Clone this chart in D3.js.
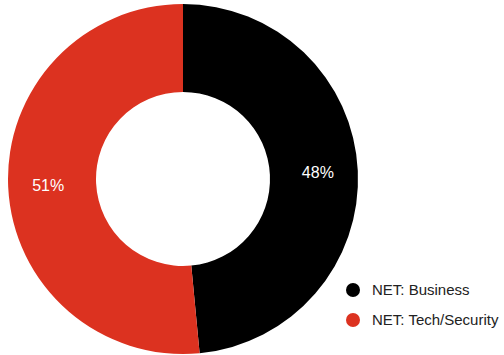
<!DOCTYPE html>
<html>
<head>
<meta charset="utf-8">
<script src="https://cdn.jsdelivr.net/npm/d3@7"></script>
<style>
  body { margin: 0; background: #fff; }
  text { font-family: "Liberation Sans", Arial, sans-serif; }
</style>
</head>
<body>
<svg id="chart" width="504" height="355"></svg>
<script>
// data
var categories = ["NET: Business", "NET: Tech/Security"];
var values = [48, 51];
var colors = ["#000000", "#dc3220"];

var svg = d3.select("#chart");
var cx = 183, cy = 179, outerR = 175, innerR = 87;

var pie = d3.pie().sort(null).value(function(d){ return d.value; });
var arcs = pie(categories.map(function(c, i){ return {name: c, value: values[i], color: colors[i]}; }));

var arc = d3.arc().innerRadius(innerR).outerRadius(outerR);
var labelArc = d3.arc().innerRadius(135).outerRadius(135);

var g = svg.append("g").attr("transform", "translate(" + cx + "," + cy + ")");

g.selectAll("path").data(arcs).enter().append("path")
  .attr("d", arc)
  .attr("fill", function(d){ return d.data.color; });

g.selectAll("text.lbl").data(arcs).enter().append("text")
  .attr("class", "lbl")
  .attr("transform", function(d){ var c = labelArc.centroid(d); return "translate(" + c + ")"; })
  .attr("text-anchor", "middle")
  .attr("dy", "0.35em")
  .attr("fill", "#fff")
  .attr("font-size", 16)
  .text(function(d){ return d.data.value + "%"; });

// legend
var legend = svg.append("g").attr("transform", "translate(353,290)");
var item = legend.selectAll("g").data(arcs).enter().append("g")
  .attr("transform", function(d, i){ return "translate(0," + i * 30 + ")"; });
item.append("circle").attr("r", 7).attr("fill", function(d){ return d.data.color; });
item.append("text").attr("x", 19).attr("dy", "0.35em")
  .attr("font-size", 15).attr("fill", "#222")
  .text(function(d){ return d.data.name; });
</script>
</body>
</html>
